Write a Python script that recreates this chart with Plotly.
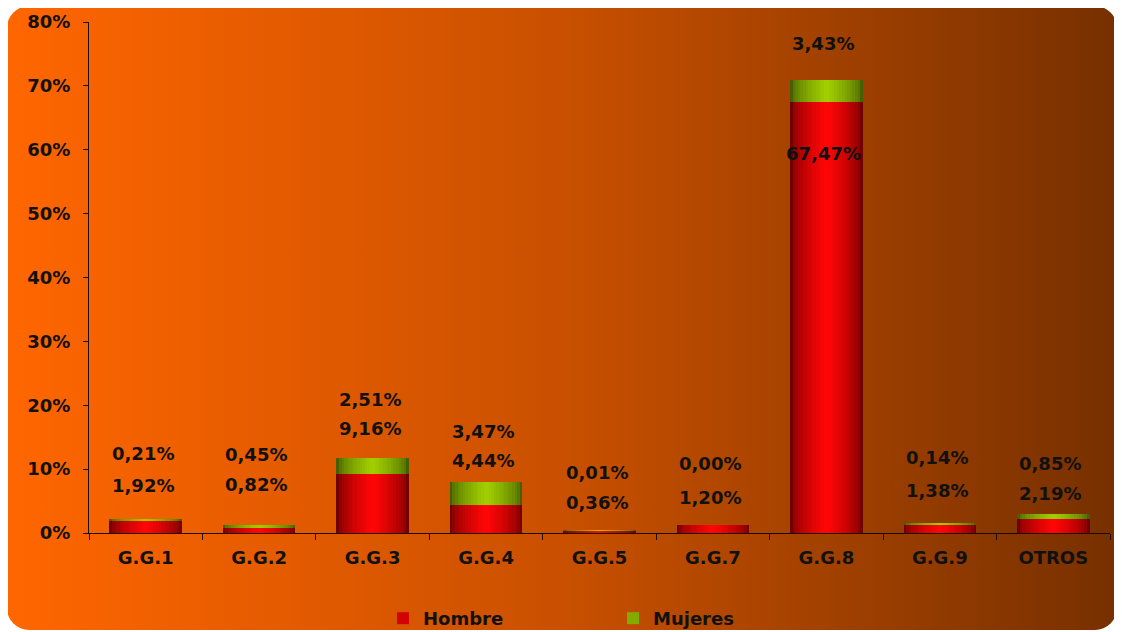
import base64
import plotly.graph_objects as go

# ---------------- data ----------------
categories = ["G.G.1", "G.G.2", "G.G.3", "G.G.4", "G.G.5", "G.G.7", "G.G.8", "G.G.9", "OTROS"]
hombre = [1.92, 0.82, 9.16, 4.44, 0.36, 1.20, 67.47, 1.38, 2.19]
mujeres = [0.21, 0.45, 2.51, 3.47, 0.01, 0.00, 3.43, 0.14, 0.85]
series_names = ["Hombre", "Mujeres"]
y_ticks = [0, 10, 20, 30, 40, 50, 60, 70, 80]

# ---------------- style ----------------
W, H = 1122, 632
D = 8  # page body margin compensation
ML, MT = 89 - D, 22 - D
MR = W - (1110 - D)
MB = H - (533 - D)
FONT = "DejaVu Sans"
BAR_W = 0.64
N_LAYERS = 14
red_edge, red_mid = (115, 0, 0), (255, 5, 5)
grn_edge, grn_mid = (70, 95, 0), (160, 205, 0)
# label vertical offsets in px above stack top (Hombre, Mujeres)
lab_off_h = [34, 40, 30, 22, 28, 28, -73, 33, 20]
lab_off_m = [66, 70, 59, 51, 58, 62, 37, 66, 50]


def mix(a, b, t):
    return "rgb(%d,%d,%d)" % tuple(round(a[i] + (b[i] - a[i]) * t) for i in range(3))


def fmt(v):
    return ("%.2f%%" % v).replace(".", ",")


fig = go.Figure()

# cylinder-like shading via overlaid bars of decreasing width
for i in range(N_LAYERS):
    t = i / (N_LAYERS - 1)
    w = BAR_W * (1 - 0.93 * t)
    shade = t ** 0.6
    fig.add_trace(go.Bar(
        x=categories, y=hombre, base=[0] * len(hombre), width=w,
        marker=dict(color=mix(red_edge, red_mid, shade), line=dict(width=0)),
        name=series_names[0], legendgroup="h",
        showlegend=(i == N_LAYERS // 2), hoverinfo="skip"))
for i in range(N_LAYERS):
    t = i / (N_LAYERS - 1)
    w = BAR_W * (1 - 0.93 * t)
    shade = t ** 0.6
    fig.add_trace(go.Bar(
        x=categories, y=mujeres, base=hombre, width=w,
        marker=dict(color=mix(grn_edge, grn_mid, shade), line=dict(width=0)),
        name=series_names[1], legendgroup="m",
        showlegend=(i == N_LAYERS // 2), hoverinfo="skip"))

annotations = []
for k, c in enumerate(categories):
    top = hombre[k] + mujeres[k]
    annotations.append(dict(x=c, y=top, xref="x", yref="y", text=fmt(hombre[k]),
                            showarrow=False, yshift=lab_off_h[k], xshift=-3,
                            font=dict(family=FONT, size=18, color="#111", weight="bold")))
    annotations.append(dict(x=c, y=top, xref="x", yref="y", text=fmt(mujeres[k]),
                            showarrow=False, yshift=lab_off_m[k], xshift=-3,
                            font=dict(family=FONT, size=18, color="#111", weight="bold")))

# gradient rounded background as an SVG image
bx0, by0, bx1, by1 = 7 - D, 6 - D, 1117 - D, 630 - D
bw, bh = bx1 - bx0, by1 - by0
svg = (
    f"<svg xmlns='http://www.w3.org/2000/svg' width='{bw}' height='{bh}' viewBox='0 0 {bw} {bh}' "
    f"preserveAspectRatio='none'><defs><linearGradient id='g' x1='0' x2='1' y1='0' y2='0'>"
    f"<stop offset='0' stop-color='#FF6600'/><stop offset='0.5' stop-color='#C95000'/>"
    f"<stop offset='1' stop-color='#773000'/></linearGradient></defs>"
    f"<rect x='0' y='0' width='{bw}' height='{bh}' rx='22' ry='22' fill='url(#g)'/></svg>"
)
src = "data:image/svg+xml;base64," + base64.b64encode(svg.encode()).decode()
pw, ph = W - ML - MR, H - MT - MB
img = dict(source=src, xref="paper", yref="paper",
           x=(bx0 - ML) / pw, y=(H - MB - by0) / ph,
           sizex=bw / pw, sizey=bh / ph, sizing="stretch",
           xanchor="left", yanchor="top", layer="below")

axis_col = "#1a0800"
leg_cx = 605   # legend center, figure px
leg_top = 592  # legend top, figure px
fig.update_layout(
    width=W, height=H,
    margin=dict(l=ML, r=MR, t=MT, b=MB, autoexpand=False),
    paper_bgcolor="white", plot_bgcolor="rgba(0,0,0,0)",
    barmode="overlay", bargap=0,
    images=[img],
    annotations=annotations,
    font=dict(family=FONT, color="#111"),
    xaxis=dict(showgrid=False, zeroline=False, showline=True, linecolor=axis_col, linewidth=1,
               ticks="outside", tickson="boundaries", ticklen=6, tickcolor=axis_col,
               tickfont=dict(family=FONT, size=18, color="#111", weight="bold"),
               ticklabelstandoff=8, fixedrange=True, automargin=False),
    yaxis=dict(range=[0, 80], tickvals=y_ticks, ticktext=[f"{v}%" for v in y_ticks],
               showgrid=False, zeroline=False, showline=True, linecolor=axis_col, linewidth=1,
               ticks="outside", ticklen=5, tickcolor=axis_col,
               tickfont=dict(family=FONT, size=18, color="#111", weight="bold"),
               ticklabelstandoff=9, fixedrange=True, automargin=False),
    legend=dict(orientation="h", x=(leg_cx - ML) / pw, xanchor="center",
                y=(H - MB - leg_top) / ph, yanchor="top",
                bgcolor="rgba(0,0,0,0)", entrywidth=185, entrywidthmode="pixels",
                font=dict(family=FONT, size=18, color="#111", weight="bold")),
    showlegend=True,
)

fig.write_html("out.html")
